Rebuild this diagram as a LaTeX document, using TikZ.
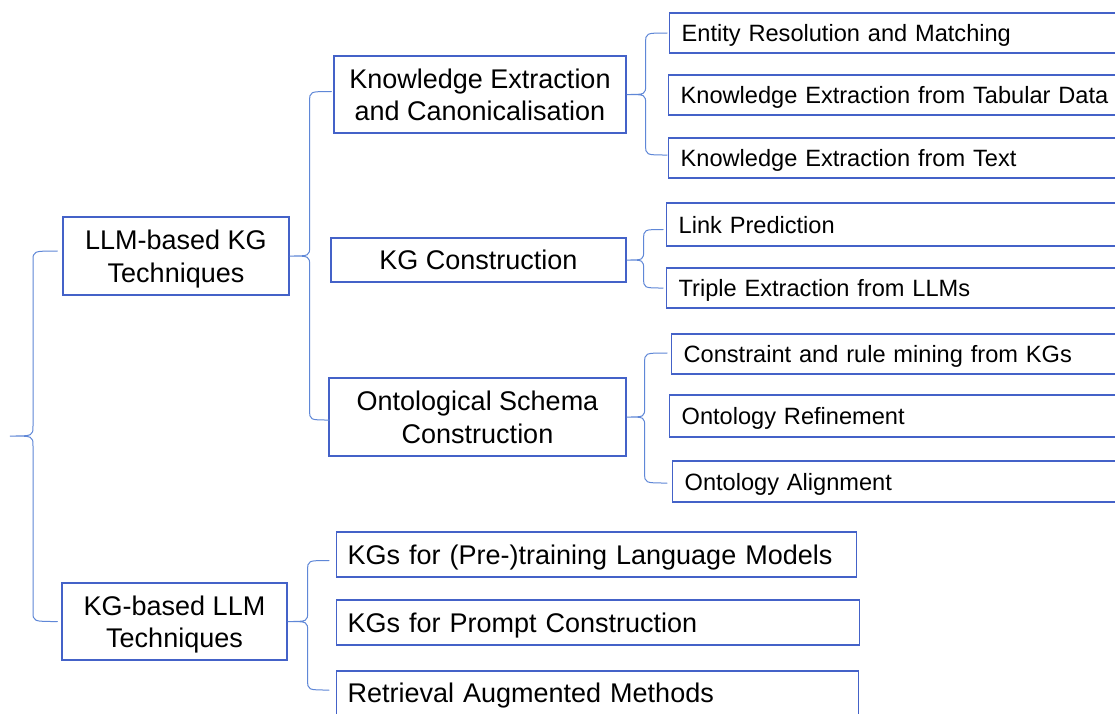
\documentclass[tikz,border=0pt]{standalone}
\usepackage{fontspec}
\setmainfont{Liberation Sans}
\usetikzlibrary{calc}
\definecolor{boxblue}{RGB}{68,98,200}
\definecolor{braceblue}{RGB}{95,135,215}
\newcommand\bigtxt{\fontsize{27}{32.5}\selectfont}
\newcommand\smalltxt{\fontsize{23.6}{28}\selectfont}
% #1 tip, #2 top end, #3 bottom end, #4 offset of vertical from tip
\newcommand\curly[4]{%
  \draw[brace] let \p1=(#1), \p2=(#2), \p3=(#3) in
    (\p2) .. controls (\x1+#4,\y2) .. (\x1+#4,\y2-10pt)
    -- (\x1+#4,\y1+10pt) .. controls (\x1+#4,\y1) .. (\p1)
    .. controls (\x1+#4,\y1) .. (\x1+#4,\y1-10pt)
    -- (\x1+#4,\y3+10pt) .. controls (\x1+#4,\y3) .. (\p3);}
\begin{document}
\begin{tikzpicture}[x=1pt,y=-1pt,
  box/.style={draw=boxblue, line width=1.3pt, inner sep=0pt, fill=white, text depth=0pt},
  mid/.style={box, font=\bigtxt, align=center},
  leaf/.style={box, font=\smalltxt, align=left, inner xsep=12pt, anchor=west, text width=520pt},
  leafb/.style={box, font=\bigtxt, align=left, inner xsep=11pt, anchor=west},
  brace/.style={draw=braceblue, line width=1pt, line cap=round}]
\clip (0,0) rectangle (1115,713);
\fill[white] (0,0) rectangle (1115,713);

% level 1
\node[mid, minimum width=226pt, minimum height=78pt] (L1a) at (176,256) {LLM-based KG\\Techniques};
\node[mid, minimum width=225pt, minimum height=77pt] (L1b) at (174.5,621.5) {KG-based LLM\\Techniques};

% level 2
\node[mid, minimum width=292pt, minimum height=77pt] (L2a) at (480,94.5) {Knowledge Extraction\\and Canonicalisation};
\node[mid, minimum width=295pt, minimum height=44pt] (L2b) at (478.5,260) {KG Construction};
\node[mid, minimum width=297pt, minimum height=78pt] (L2c) at (477.5,417) {Ontological Schema\\Construction};

% level 3 (right edges run past the picture's border)
\node[leaf, minimum height=40pt] (e1) at (669,33) {Entity Resolution and Matching};
\node[leaf, minimum height=40pt] (e2) at (668,95) {Knowledge Extraction from Tabular Data};
\node[leaf, minimum height=40pt] (e3) at (668,158) {Knowledge Extraction from Text};
\node[leaf, minimum height=43pt] (c1) at (666,224.5) {Link Prediction};
\node[leaf, minimum height=40pt] (c2) at (666,288) {Triple Extraction from LLMs};
\node[leaf, minimum height=40pt] (o1) at (671,354) {Constraint and rule mining from KGs};
\node[leaf, minimum height=42pt] (o2) at (669,416) {Ontology Refinement};
\node[leaf, minimum height=41pt] (o3) at (672,481.5) {Ontology Alignment};

% KG-based LLM children
\node[leafb, text width=498pt, minimum height=45pt] (k1) at (336,554.5) {KGs for (Pre-)training Language Models};
\node[leafb, text width=501pt, minimum height=45pt] (k2) at (336,622.5) {KGs for Prompt Construction};
\node[leafb, text width=500pt, minimum height=44pt] (k3) at (336,693) {Retrieval Augmented Methods};

% braces
\coordinate (root) at (10,436);
\curly{root}{$(L1a.west)+(-5,-5)$}{$(L1b.west)+(-4,0)$}{23pt}
\curly{L1a.east}{$(L2a.west)+(-2,-3)$}{$(L2c.west)+(1,3)$}{20pt}
\curly{L2a.east}{$(e1.west)+(-2,0)$}{$(e3.west)+(-1,-3)$}{19pt}
\curly{L2b.east}{$(c1.west)+(-3,5)$}{$(c2.west)+(-3,0)$}{17pt}
\curly{L2c.east}{$(o1.west)+(-4,-1)$}{$(o3.west)+(-5,1.5)$}{18pt}
\curly{L1b.east}{$(k1.west)+(-7,6)$}{$(k3.west)+(-7,-3)$}{20pt}
\end{tikzpicture}
\end{document}
